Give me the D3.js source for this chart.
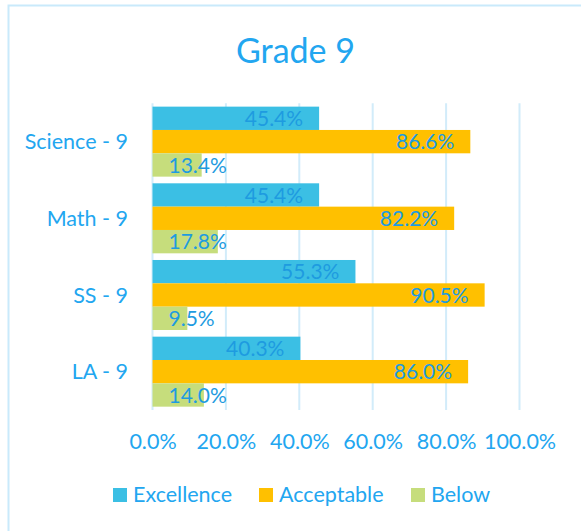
<!DOCTYPE html>
<html><head><meta charset="utf-8">
<script src="https://cdn.jsdelivr.net/npm/d3@7"></script>
<style>body{margin:0;background:#fff;}svg{display:block;}</style>
</head><body>
<svg id="c" width="581" height="531"></svg>
<script>
const title = "Grade 9";
const categories = ["Science - 9", "Math - 9", "SS - 9", "LA - 9"];
const seriesNames = ["Excellence", "Acceptable", "Below"];
const excellence = [45.4, 45.4, 55.3, 40.3];
const acceptable = [86.6, 82.2, 90.5, 86.0];
const below = [13.4, 17.8, 9.5, 14.0];
const tickValues = [0, 20, 40, 60, 80, 100];
const colors = ["#3BBFE4", "#FFC000", "#C6DD7C"];

const series = [excellence, acceptable, below];
const svg = d3.select("#c");
const font = "Lato, 'Open Sans', sans-serif";
const textColor = "#22A6F0";
const labelColor = "#1E9BE0";

// chart border
svg.append("rect").attr("x", 8.5).attr("y", 5.5).attr("width", 600).attr("height", 600)
  .attr("fill", "none").attr("stroke", "#C9EAFB").attr("stroke-width", 2);

svg.append("text").attr("x", 295.5).attr("y", 49).attr("text-anchor", "middle")
  .attr("dominant-baseline", "central")
  .attr("font-family", font).attr("font-size", 34).attr("fill", textColor).text(title);

const x = d3.scaleLinear().domain([0, 100]).range([152.5, 519.5]);
const y = d3.scaleBand().domain(categories).range([103.3, 410]).paddingInner(0.087).paddingOuter(0.0435);
const yi = d3.scaleBand().domain(seriesNames).range([0, y.bandwidth()]);

// gridlines
svg.append("g").selectAll("line").data(tickValues).join("line")
  .attr("x1", d => x(d)).attr("x2", d => x(d)).attr("y1", 103.3).attr("y2", 410)
  .attr("stroke", "#D2ECFA").attr("stroke-width", 2);

// x axis labels
const xAxis = d3.axisBottom(x).tickValues(tickValues).tickFormat(d => d.toFixed(1) + "%").tickSize(0).tickPadding(0);
const gx = svg.append("g").attr("transform", "translate(0,434)").call(xAxis);
gx.select(".domain").remove();
gx.selectAll("text").attr("font-family", font).attr("font-size", 21.5).attr("fill", textColor);

// y axis labels
const yAxis = d3.axisLeft(y).tickSize(0).tickPadding(0);
const gy = svg.append("g").attr("transform", "translate(128,0)").call(yAxis);
gy.select(".domain").remove();
gy.selectAll("text").attr("font-family", font).attr("font-size", 21.5).attr("fill", textColor).attr("dy", "0.35em");

// bars
const rows = [];
categories.forEach((c, i) => seriesNames.forEach((s, j) => rows.push({c, s, j, v: series[j][i]})));
const g = svg.append("g");
g.selectAll("rect").data(rows).join("rect")
  .attr("x", x(0)).attr("y", d => y(d.c) + yi(d.s))
  .attr("width", d => x(d.v) - x(0)).attr("height", yi.bandwidth())
  .attr("fill", d => colors[d.j]);

g.selectAll("text").data(rows).join("text")
  .attr("x", d => d.j === 2 ? x(0) + 16 : x(d.v) - 16)
  .attr("text-anchor", d => d.j === 2 ? "start" : "end")
  .attr("y", d => y(d.c) + yi(d.s) + yi.bandwidth() / 2)
  .attr("dy", "0.36em")
  .attr("font-family", font).attr("font-size", 21).attr("fill", labelColor)
  .text(d => d.v.toFixed(1) + "%");

// legend
const legendX = [113, 259, 411];
const lg = svg.append("g");
seriesNames.forEach((s, j) => {
  lg.append("rect").attr("x", legendX[j]).attr("y", 488).attr("width", 14).attr("height", 14).attr("fill", colors[j]);
  lg.append("text").attr("x", legendX[j] + 20).attr("y", 494.5).attr("dy", "0.36em")
    .attr("font-family", font).attr("font-size", 21.5).attr("fill", textColor).text(s);
});
</script>
</body></html>
